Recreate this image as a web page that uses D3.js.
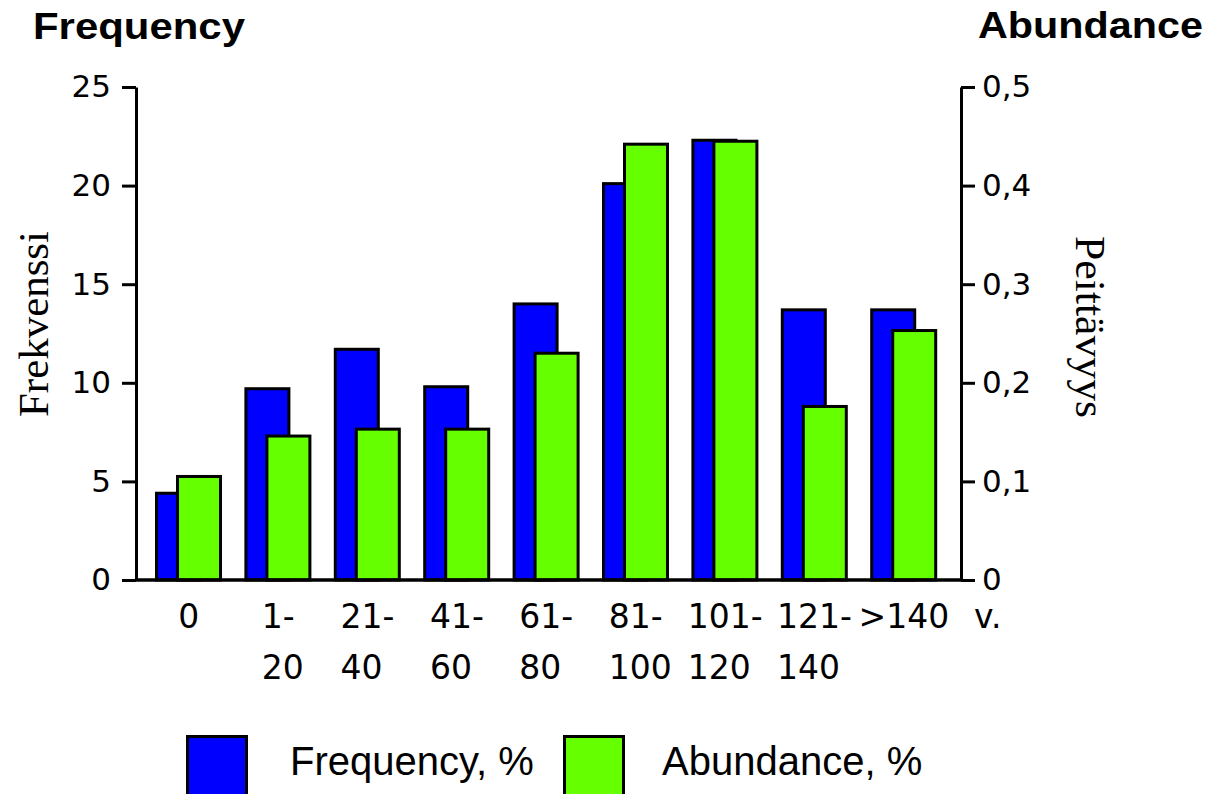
<!DOCTYPE html>
<html>
<head>
<meta charset="utf-8">
<script src="https://cdn.jsdelivr.net/npm/d3@7/dist/d3.min.js"></script>
<style>
  html, body { margin: 0; padding: 0; background: #ffffff; }
  svg { display: block; }
</style>
</head>
<body>
<svg id="chart" width="1217" height="794"></svg>
<script>
// ---- data ----
const categories = ["0", "1-20", "21-40", "41-60", "61-80", "81-100", "101-120", "121-140", ">140"];
const labelLine1 = ["0", "1-", "21-", "41-", "61-", "81-", "101-", "121-", ">140"];
const labelLine2 = ["", "20", "40", "60", "80", "100", "120", "140", ""];
const frequency = [4.4, 9.7, 11.7, 9.8, 14.0, 20.1, 22.3, 13.7, 13.7];
const abundance = [0.105, 0.146, 0.153, 0.153, 0.230, 0.442, 0.445, 0.176, 0.253];
const leftTicks = [0, 5, 10, 15, 20, 25];
const rightTicks = [0, 0.1, 0.2, 0.3, 0.4, 0.5];
const seriesNames = ["Frequency, %", "Abundance, %"];
const seriesColors = ["#0000ff", "#66ff00"];

// ---- layout ----
const svg = d3.select("#chart");
const plotTop = 87, plotBottom = 580, leftX = 136, rightX = 961;

const x = d3.scaleBand().domain(categories).range([144, 948.6]).paddingInner(0).paddingOuter(0);
const yL = d3.scaleLinear().domain([0, 25]).range([plotBottom, plotTop]);
const yR = d3.scaleLinear().domain([0, 0.5]).range([plotBottom, plotTop]);

const barW = 43, strokeW = 3;
const sub = d3.scaleOrdinal().domain(["f", "a"]).range([12.5, 33.5]);

// frequency bars
svg.append("g").selectAll("rect").data(frequency).join("rect")
  .attr("x", (d, i) => x(categories[i]) + sub("f"))
  .attr("y", d => yL(d))
  .attr("width", barW)
  .attr("height", d => plotBottom - yL(d))
  .attr("fill", seriesColors[0])
  .attr("stroke", "#000").attr("stroke-width", strokeW);

// abundance bars
svg.append("g").selectAll("rect").data(abundance).join("rect")
  .attr("x", (d, i) => x(categories[i]) + sub("a"))
  .attr("y", d => yR(d))
  .attr("width", barW)
  .attr("height", d => plotBottom - yR(d))
  .attr("fill", seriesColors[1])
  .attr("stroke", "#000").attr("stroke-width", strokeW);

// axes
const tickFont = "'DejaVu Sans', sans-serif";
const gL = svg.append("g").attr("transform", `translate(${leftX},0)`)
  .call(d3.axisLeft(yL).tickValues(leftTicks).tickSize(14).tickSizeOuter(0).tickPadding(11).tickFormat(d3.format("d")));
const gR = svg.append("g").attr("transform", `translate(${rightX},0)`)
  .call(d3.axisRight(yR).tickValues(rightTicks).tickSize(14).tickSizeOuter(0).tickPadding(7)
    .tickFormat(d => d === 0 ? "0" : d3.format(".1f")(d).replace(".", ",")));
[gL, gR].forEach(g => {
  g.selectAll("path.domain").attr("stroke", "#000").attr("stroke-width", 3);
  g.selectAll(".tick line").attr("stroke", "#000").attr("stroke-width", 3);
  g.selectAll(".tick text").attr("fill", "#000").attr("font-family", tickFont).attr("font-size", 31);
});

// baseline
svg.append("line").attr("x1", leftX).attr("x2", rightX).attr("y1", plotBottom).attr("y2", plotBottom)
  .attr("stroke", "#000").attr("stroke-width", 3.5);

// x labels (two lines, second line left-aligned with first)
const xl = svg.append("g").attr("font-family", tickFont).attr("font-size", 33).attr("fill", "#000");
categories.forEach((c, i) => {
  const cx = x(c) + x.bandwidth() / 2;
  const t = xl.append("text").attr("x", cx).attr("y", 628).text(labelLine1[i]);
  const w = t.node().getComputedTextLength();
  const left = cx - w / 2;
  t.attr("x", left);
  if (labelLine2[i]) xl.append("text").attr("x", left).attr("y", 679).text(labelLine2[i]);
});
xl.append("text").attr("x", 974).attr("y", 628).text("v.");

// axis titles
svg.append("text").attr("transform", "translate(48,324) rotate(-90)")
  .attr("text-anchor", "middle").attr("font-family", "'Liberation Serif', serif").attr("font-size", 42)
  .attr("textLength", 186).attr("lengthAdjust", "spacingAndGlyphs").text("Frekvenssi");
svg.append("text").attr("transform", "translate(1076,327) rotate(90)")
  .attr("text-anchor", "middle").attr("font-family", "'Liberation Serif', serif").attr("font-size", 42)
  .attr("textLength", 182).attr("lengthAdjust", "spacingAndGlyphs").text("Peittävyys");

// header titles
svg.append("text").attr("x", 33).attr("y", 39).attr("font-family", "'Liberation Sans', Arial, sans-serif")
  .attr("font-weight", "bold").attr("font-size", 36).attr("textLength", 212).attr("lengthAdjust", "spacingAndGlyphs")
  .text("Frequency");
svg.append("text").attr("x", 978).attr("y", 38).attr("font-family", "'Liberation Sans', Arial, sans-serif")
  .attr("font-weight", "bold").attr("font-size", 36).attr("textLength", 225).attr("lengthAdjust", "spacingAndGlyphs")
  .text("Abundance");

// legend
const legendX = [187.5, 564.5], legendTextX = [290, 662];
const lg = svg.append("g");
seriesNames.forEach((n, i) => {
  lg.append("rect").attr("x", legendX[i]).attr("y", 736.5).attr("width", 59).attr("height", 60)
    .attr("fill", seriesColors[i]).attr("stroke", "#000").attr("stroke-width", 3);
  lg.append("text").attr("x", legendTextX[i]).attr("y", 775)
    .attr("font-family", "'Liberation Sans', Arial, sans-serif").attr("font-size", 40).attr("fill", "#000")
    .text(n);
});
</script>
</body>
</html>
